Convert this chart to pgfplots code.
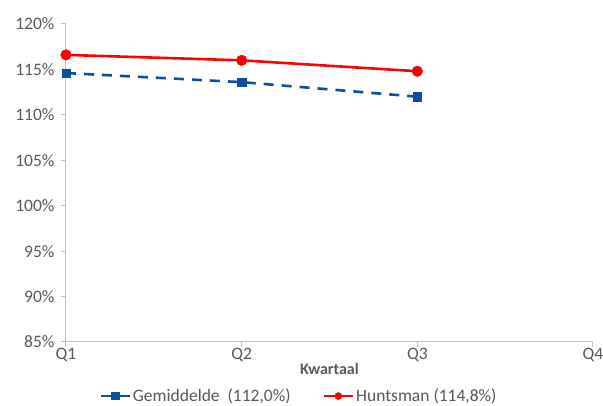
\documentclass[border=0pt]{standalone}
\usepackage{pgfplots}
\pgfplotsset{compat=1.18}
\usepackage{fontspec}
\setmainfont{Carlito}
\definecolor{txt}{RGB}{89,89,89}
\definecolor{axl}{RGB}{191,191,191}
\definecolor{gemblue}{RGB}{12,78,156}
\begin{document}
\begin{tikzpicture}
\begin{axis}[
  scale only axis,
  width=527pt, height=318pt,
  xmin=1, xmax=4, ymin=85, ymax=120,
  axis x line*=bottom, axis y line*=left,
  axis line style={axl, line width=1pt, -},
  xtick={1,2,3,4}, xticklabels={Q1,Q2,Q3,Q4},
  ytick={85,90,...,120},
  yticklabel={\pgfmathprintnumber{\tick}\%},
  /pgf/number format/assume math mode=true,
  tick style={axl, line width=1pt},
  major tick length=5pt,
  tick align=outside,
  ticklabel style={font=\fontsize{17.5}{19}\selectfont, text=txt},
  yticklabel style={xshift=-3pt},
  xticklabel style={yshift=2pt},
  xlabel={\textbf{Kwartaal}},
  xlabel style={font=\fontsize{16}{18}\selectfont, text=txt, yshift=6pt},
  legend columns=2,
  legend style={draw=none, font=\fontsize{17.5}{19}\selectfont, text=txt,
    at={(0.442,-0.170)}, anchor=center, inner sep=0pt,
    /tikz/every even column/.append style={column sep=30pt}},
  legend image code/.code={
    \draw[#1, solid] (0pt,0pt) -- (29pt,0pt);
    \draw[#1, only marks, mark size=3.6pt] plot coordinates {(14.5pt,0pt)};
  },
  clip=false,
]
\addplot[gemblue, line width=2.6pt, dash pattern=on 10pt off 8pt, mark=square*,
  mark size=4.2pt, mark options={solid, line width=0.4pt}]
  coordinates {(1,114.6) (2,113.6) (3,112.0)};
\addlegendentry{Gemiddelde\ \ (112,0\%)}
\addplot[red, line width=2.6pt, mark=*, mark size=5.3pt,
  mark options={solid, line width=0.4pt}]
  coordinates {(1,116.6) (2,116.0) (3,114.8)};
\addlegendentry{Huntsman (114,8\%)}
\end{axis}
\pgfresetboundingbox
\path[use as bounding box] (-66pt,-64pt) rectangle (537pt,342pt);
\end{tikzpicture}
\end{document}
